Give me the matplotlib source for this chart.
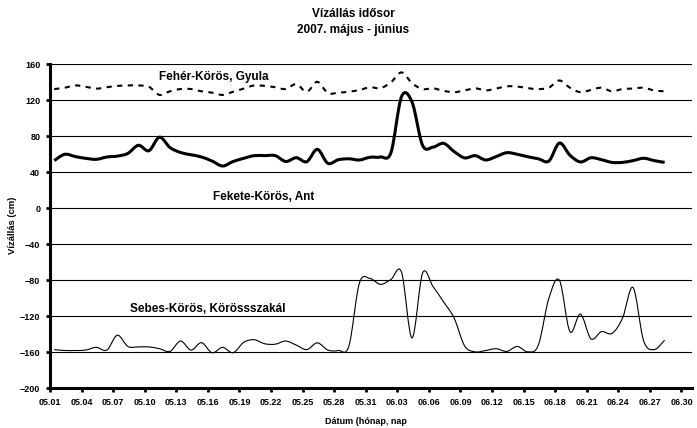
# Vízállás idősor - 2007. május-június
import matplotlib.pyplot as plt
from matplotlib.path import Path
from matplotlib.patches import PathPatch
import numpy as np

plt.rcParams['font.family'] = ['Liberation Sans', 'DejaVu Sans']
plt.rcParams['font.weight'] = 'bold'

# napok 05.01-től számolva (mérések 05.01 - 06.28)
napok = np.arange(59) + 0.4

fekete = [53, 60, 57.5, 55.5, 54.4, 57, 58, 61, 70, 64,
          79, 67.5, 62, 59.5, 57, 52.5, 47, 52, 55.5, 58.5,
          58.5, 58.5, 52, 56.2, 51.8, 65.5, 50, 54, 55, 53.7,
          56.7, 57, 62, 124, 118, 70, 68, 72.2, 63, 56,
          58.5, 53.7, 57.5, 61.8, 60, 57.3, 55, 52.5, 72.5, 59,
          51.5, 56.2, 54, 51, 51, 53, 55.6, 53, 51]

feher = [132.5, 134, 136.5, 135, 133, 134.5, 136, 136.5, 136.5, 135,
         126, 130, 132.5, 132.5, 130, 128.5, 126, 129.5, 133, 136.5,
         136, 134.5, 132.5, 138, 129.5, 140.5, 128, 128.5, 129.5, 131.5,
         134.5, 133.5, 140, 151, 139, 132.5, 133.3, 130.5, 129, 131,
         133.3, 131, 133, 135.5, 135.3, 133.5, 132.5, 134, 142, 134,
         129, 131.5, 134, 130, 132.5, 133, 134, 131, 130]

sebes = [-157, -158, -158, -157.5, -154.5, -157.5, -141, -153.5, -154, -154,
         -156, -159, -147.5, -157.5, -149.3, -160.5, -154.5, -160.5, -149, -146,
         -150.5, -151, -147.5, -152, -157, -149.5, -157.5, -158, -153, -83,
         -78, -84.5, -79, -71, -144, -72, -87, -104, -122, -153,
         -159.5, -158, -156, -159, -153.5, -159.5, -152, -100, -80, -137,
         -117.5, -145, -137, -139, -122, -88, -147, -157, -146.5]

tick_pos = list(range(0, 61, 3))
tick_labels = ['05.01', '05.04', '05.07', '05.10', '05.13', '05.16', '05.19',
               '05.22', '05.25', '05.28', '05.31', '06.03', '06.06', '06.09',
               '06.12', '06.15', '06.18', '06.21', '06.24', '06.27', '06.30']


# Excel-szerű simított vonal Bezier görbékkel
def sima_vonal(ax, x, y, **kw):
    pts = np.column_stack([x, y])
    n = len(pts)
    verts = [pts[0]]
    codes = [Path.MOVETO]
    for i in range(n - 1):
        p0 = pts[max(i - 1, 0)]
        p1 = pts[i]
        p2 = pts[i + 1]
        p3 = pts[min(i + 2, n - 1)]
        verts += [p1 + (p2 - p0) / 6, p2 - (p3 - p1) / 6, p2]
        codes += [Path.CURVE4] * 3
    ax.add_patch(PathPatch(Path(verts, codes), fill=False, zorder=3, **kw))


fig = plt.figure(figsize=(6.97, 4.28), dpi=100)
ax = fig.add_axes([50 / 697, 1 - 388.3 / 428, 642 / 697, 324 / 428])

sima_vonal(ax, napok, feher, color='black', lw=1.5, linestyle=(0, (2.5, 2.6)))
sima_vonal(ax, napok, fekete, color='black', lw=2.2)
sima_vonal(ax, napok, sebes, color='black', lw=0.8)

ax.set_xlim(0, 61)
ax.set_ylim(-200, 160)
ax.set_yticks(range(-200, 161, 40))
ax.set_xticks(tick_pos)
ax.set_xticklabels(tick_labels)
ax.yaxis.grid(True, color='black', lw=0.8)
ax.set_axisbelow(True)

for s in ['top', 'right']:
    ax.spines[s].set_visible(False)
for s in ['left', 'bottom']:
    ax.spines[s].set_linewidth(2.2)
ax.spines['bottom'].set_zorder(4)
ax.tick_params(direction='out', length=3, width=2, labelsize=6.5, pad=4)

# feliratok
ax.text(15.6, 146, 'Fehér-Körös, Gyula', ha='center', va='center', fontsize=8.5, fontweight='bold')
ax.text(20.3, 13, 'Fekete-Körös, Ant', ha='center', va='center', fontsize=8.5, fontweight='bold')
ax.text(15.0, -112, 'Sebes-Körös, Körössszakál', ha='center', va='center', fontsize=8.5, fontweight='bold')

fig.text(353 / 697, 1 - 14 / 428, 'Vízállás idősor', ha='center', va='center', fontsize=8.5, fontweight='bold')
fig.text(353 / 697, 1 - 30 / 428, '2007. május - június', ha='center', va='center', fontsize=8.5, fontweight='bold')
fig.text(12.7 / 697, 1 - 225 / 428, 'Vízállás (cm)', rotation=90, ha='center', va='center',
         fontsize=6.8, fontweight='bold')
fig.text(366 / 697, 1 - 421 / 428, 'Dátum (hónap, nap', ha='center', va='center', fontsize=6.5, fontweight='bold')

plt.savefig('out.png', dpi=100)
plt.close(fig)
